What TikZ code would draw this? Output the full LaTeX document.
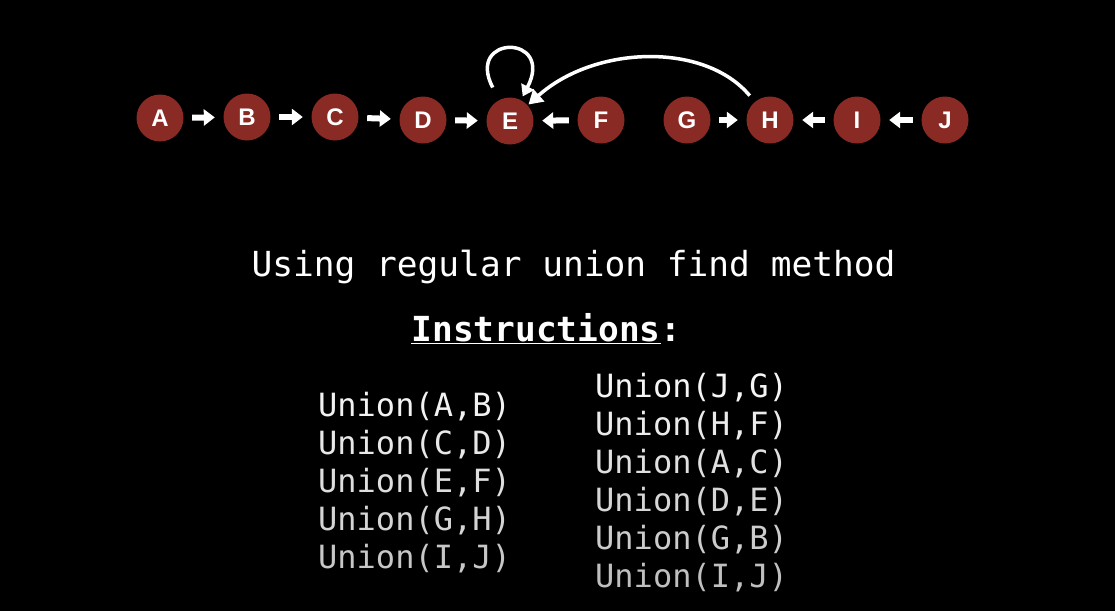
\documentclass[tikz,border=0pt]{standalone}
\usepackage{fontspec}
\setmonofont{DejaVu Sans Mono}
\newfontfamily\nodefont{Liberation Sans}
\usetikzlibrary{arrows.meta}
\definecolor{nodered}{HTML}{8A2A24}
\begin{document}
\begin{tikzpicture}[x=1pt,y=-1pt,
  uf/.style={circle, fill=nodered, minimum size=47pt, inner sep=0pt, text=white, font=\nodefont\bfseries\fontsize{24}{24}\selectfont},
  link/.style={-{Triangle[length=11pt,width=16pt]}, line width=6pt, white, shorten <=8.5pt, shorten >=8.5pt},
  bigarc/.style={-{Triangle[length=14pt,width=16pt]}, line width=3.5pt, white},
  title/.style={text=white, font=\ttfamily\fontsize{34.5}{36}\selectfont, inner sep=0pt},
  instr/.style={font=\ttfamily\fontsize{32}{34}\selectfont, inner sep=0pt, anchor=base west}
]
\fill[black] (0,0) rectangle (1115,611);
\useasboundingbox (0,0) rectangle (1115,611);

\node[uf] (A) at (160,118) {A};
\node[uf] (B) at (247,117) {B};
\node[uf] (C) at (335,117) {C};
\node[uf] (D) at (423,120) {D};
\node[uf] (E) at (510,121) {E};
\node[uf] (F) at (601,120) {F};
\node[uf] (G) at (687,120) {G};
\node[uf] (H) at (770,120) {H};
\node[uf] (I) at (857,120) {I};
\node[uf] (J) at (945,120) {J};

\draw[link] (A) -- (B);
\draw[link] (B) -- (C);
\draw[link] (C) -- (D);
\draw[link] (D) -- (E);
\draw[link] (F) -- (E);
\draw[link] (G) -- (H);
\draw[link] (I) -- (H);
\draw[link] (J) -- (I);

\draw[-{Triangle[length=11pt,width=14pt]}, line width=3.5pt, white, shorten <=14pt, shorten >=4pt]
  (E) .. controls (465,34) and (555,34) .. (E);
\draw[bigarc, shorten <=8pt, shorten >=1pt] (H) .. controls (705,42) and (595,45) .. (E);

\node[title, anchor=base] (t1) at (573.5,276) {Using regular union find method};
\node[title, anchor=base, font=\ttfamily\bfseries\fontsize{34.5}{36}\selectfont] (t2) at (546.5,341) {\underline{Instructions}:};

\node[instr, text=black!5!white] (l1) at (318,416) {Union(A,B)};
\node[instr, text=black!9!white] (l2) at (318,454) {Union(C,D)};
\node[instr, text=black!13!white] (l3) at (318,492) {Union(E,F)};
\node[instr, text=black!17!white] (l4) at (318,530) {Union(G,H)};
\node[instr, text=black!22!white] (l5) at (318,568) {Union(I,J)};

\node[instr, text=black!4!white] (r1) at (595,397) {Union(J,G)};
\node[instr, text=black!8!white] (r2) at (595,435) {Union(H,F)};
\node[instr, text=black!12!white] (r3) at (595,473) {Union(A,C)};
\node[instr, text=black!16!white] (r4) at (595,511) {Union(D,E)};
\node[instr, text=black!20!white] (r5) at (595,549) {Union(G,B)};
\node[instr, text=black!25!white] (r6) at (595,587) {Union(I,J)};
\end{tikzpicture}
\end{document}
